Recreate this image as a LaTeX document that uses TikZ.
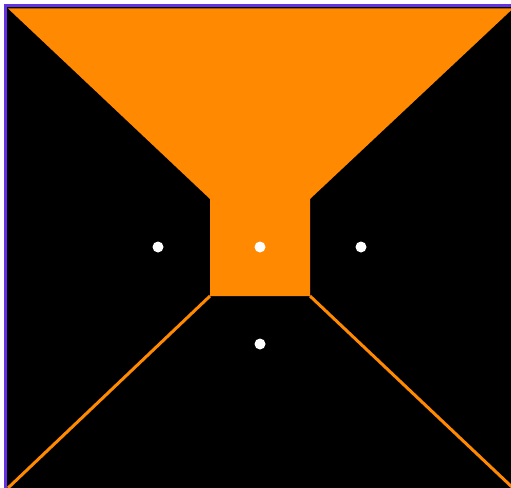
\documentclass[tikz,border=0pt]{standalone}
\usepackage{tikz}
\usetikzlibrary{calc}
\definecolor{wallorange}{RGB}{255,137,0}
\definecolor{framepurple}{RGB}{100,50,225}

\begin{document}
\begin{tikzpicture}[x=1pt, y=-1pt]
    \useasboundingbox (0,0) rectangle (511,487);
    \clip (0,0) rectangle (511,487);
    % room and frame
    \fill[black] (5,6) rectangle (520,495);
    \draw[framepurple, line width=3pt] (5,495) -- (5,6) -- (520,6);
    \coordinate (ctl) at (8,8.5);
    \coordinate (ctr) at (513,8.5);
    \coordinate (wtl) at (210,199);
    \coordinate (wtr) at (310,199);
    \coordinate (wbl) at (210,296);
    \coordinate (wbr) at (310,296);
    \coordinate (fbl) at (8,488);
    \coordinate (fbr) at (513,488);
    % ceiling and back wall
    \fill[wallorange] (ctl) -- (ctr) -- (wtr) -- (wbr) -- (wbl) -- (wtl) -- cycle;
    % floor edges
    \draw[wallorange, line width=3pt] (wbl) -- (fbl);
    \draw[wallorange, line width=3pt] (wbr) -- (fbr);
    % lights
    \foreach \px/\py in {158/247, 260/247, 361/247, 260/344} {
        \fill[white] (\px,\py) circle (5.5);
    }
\end{tikzpicture}
\end{document}
